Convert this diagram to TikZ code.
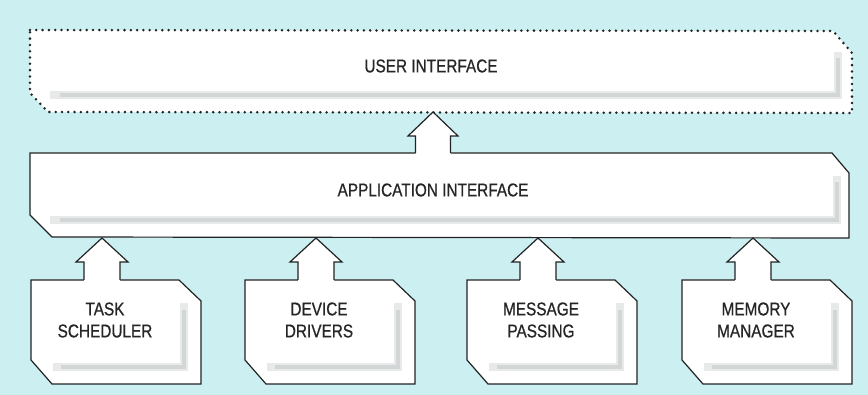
\documentclass[tikz,border=0pt]{standalone}
\usepackage{fontspec}
\newfontfamily\labfont[FakeStretch=0.83,FakeBold=0.7]{Liberation Sans}
\definecolor{bgcyan}{RGB}{204,240,242}
\definecolor{inkc}{RGB}{35,35,35}
\definecolor{shadec}{RGB}{180,186,186}
\begin{document}
\begin{tikzpicture}[x=1pt,y=-1pt,
  boxline/.style={draw=inkc, line width=1.2pt, fill=white, line join=miter},
  dotline/.style={draw=inkc, line width=2.8pt, line cap=round, dash pattern=on 0pt off 6.3pt},
  softshade/.style={draw=shadec, line width=8pt, opacity=0.3},
  hardshade/.style={draw=shadec, line width=4pt, opacity=0.4},
  arrline/.style={draw=inkc, line width=1.2pt, line join=miter},
  lab/.style={font=\labfont\fontsize{18.5}{22}\selectfont, text=black!85, align=center, inner sep=0pt}]
\useasboundingbox (0,0) rectangle (868,395);
\fill[bgcyan] (0,0) rectangle (868,395);

% USER INTERFACE (dotted)
\fill[white] (30,30) -- (833,31) -- (852,53) -- (852,113) -- (48,112) -- (30,93) -- cycle;
\draw[softshade] (50,95) -- (838,95) -- (838,52);
\draw[hardshade] (60,95) -- (838,95) -- (838,58);
\draw[dotline] (30,30) -- (833,31) -- (852,53) -- (852,113) -- (48,112) -- (30,93) -- cycle;
\node[lab] (ui) at (431,66) {USER INTERFACE};

% APPLICATION INTERFACE
\draw[boxline] (30,153) -- (832,153) -- (849,173) -- (849,238) -- (52,237) -- (30,215) -- cycle;
\draw[softshade] (50,220) -- (837,220) -- (837,176);
\draw[hardshade] (60,220) -- (837,220) -- (837,182);
\node[lab] (api) at (433,190) {APPLICATION INTERFACE};

% arrow API -> UI
\fill[white] (415.5,154.5) -- (415.5,136) -- (408,136) -- (433,112) -- (458,136) -- (450.5,136) -- (450.5,154.5) -- cycle;
\draw[arrline] (415.5,153) -- (415.5,136) -- (408,136) -- (433,112) -- (458,136) -- (450.5,136) -- (450.5,153);

% lower boxes
\foreach \l/\nm/\txt in {31/task/{TASK\\SCHEDULER}, 245/dev/{DEVICE\\DRIVERS}, 467/msg/{MESSAGE\\PASSING}, 682/mem/{MEMORY\\MANAGER}} {
  \pgfmathsetmacro\a{\l+71}
  \pgfmathsetmacro\r{\l+170}
  \draw[boxline] (\l,280) -- (\r-22,280) -- (\r,301) -- (\r,384) -- (\l+21,384) -- (\l,360) -- cycle;
  \draw[softshade] (\l+22,367) -- (\r-17,367) -- (\r-17,303);
  \draw[hardshade] (\l+30,367) -- (\r-17,367) -- (\r-17,310);
  \fill[white] (\a-18,281.5) -- (\a-18,262) -- (\a-26,262) -- (\a,238.5) -- (\a+26,262) -- (\a+18,262) -- (\a+18,281.5) -- cycle;
  \draw[arrline] (\a-18,280) -- (\a-18,262) -- (\a-26,262) -- (\a,238) -- (\a+26,262) -- (\a+18,262) -- (\a+18,280);
  \node[lab] (\nm) at (\l+74,320) {\txt};
}
\end{tikzpicture}
\end{document}
